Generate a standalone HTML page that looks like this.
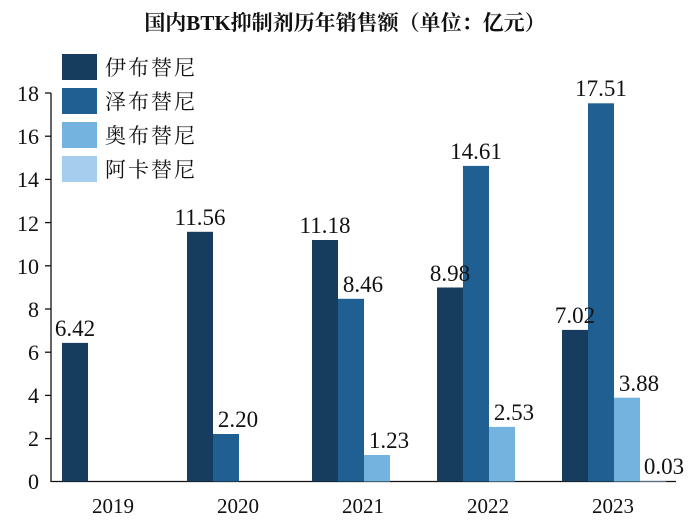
<!DOCTYPE html><html><head><meta charset="utf-8"><style>body{margin:0;background:#fff}svg{display:block}text{font-family:"Liberation Serif","Noto Serif CJK SC",serif;fill:#111}</style></head><body>
<svg width="691" height="521" xmlns="http://www.w3.org/2000/svg">
<text x="345" y="30" text-anchor="middle" font-size="21" font-weight="bold">国内BTK抑制剂历年销售额（单位：亿元）</text>
<g font-size="22" text-anchor="end">
<text x="39" y="489">0</text><text x="39" y="446">2</text><text x="39" y="403">4</text><text x="39" y="360">6</text><text x="39" y="317">8</text><text x="39" y="274">10</text><text x="39" y="231">12</text><text x="39" y="187">14</text><text x="39" y="144">16</text><text x="39" y="101">18</text></g>
<g stroke="#111" stroke-width="1.3"><line x1="51" y1="93" x2="51" y2="482"/><line x1="51" y1="481.5" x2="676" y2="481.5"/>
<line x1="45" y1="93" x2="51" y2="93"/><line x1="45" y1="136.2" x2="51" y2="136.2"/><line x1="45" y1="179.4" x2="51" y2="179.4"/><line x1="45" y1="222.6" x2="51" y2="222.6"/><line x1="45" y1="265.8" x2="51" y2="265.8"/><line x1="45" y1="309" x2="51" y2="309"/><line x1="45" y1="352.2" x2="51" y2="352.2"/><line x1="45" y1="395.4" x2="51" y2="395.4"/><line x1="45" y1="438.6" x2="51" y2="438.6"/></g>
<g>
<rect x="62" y="342.9" width="26" height="138.6" fill="#163d5e"/>
<rect x="187" y="231.8" width="26" height="249.7" fill="#163d5e"/>
<rect x="213" y="434" width="26" height="47.5" fill="#1f5f91"/>
<rect x="312" y="240" width="26" height="241.5" fill="#163d5e"/>
<rect x="338" y="298.8" width="26" height="182.7" fill="#1f5f91"/>
<rect x="364" y="455" width="26" height="26.5" fill="#74b3e0"/>
<rect x="437" y="287.5" width="26" height="194" fill="#163d5e"/>
<rect x="463" y="165.9" width="26" height="315.6" fill="#1f5f91"/>
<rect x="489" y="426.9" width="26" height="54.6" fill="#74b3e0"/>
<rect x="562" y="329.9" width="26" height="151.6" fill="#163d5e"/>
<rect x="588" y="103.3" width="26" height="378.2" fill="#1f5f91"/>
<rect x="614" y="397.7" width="26" height="83.8" fill="#74b3e0"/>
<rect x="640" y="480.8" width="26" height="0.7" fill="#a5cdee"/>
</g>
<g font-size="23" text-anchor="middle">
<text x="75" y="336">6.42</text>
<text x="200" y="225">11.56</text><text x="238" y="427">2.20</text>
<text x="325" y="233">11.18</text><text x="363" y="292">8.46</text><text x="389" y="448">1.23</text>
<text x="450" y="281">8.98</text><text x="476" y="159">14.61</text><text x="514" y="420">2.53</text>
<text x="575" y="323">7.02</text><text x="601" y="96">17.51</text><text x="639" y="391">3.88</text><text x="664" y="474">0.03</text>
</g>
<g font-size="21" text-anchor="middle">
<text x="113" y="513">2019</text><text x="238" y="513">2020</text><text x="363" y="513">2021</text><text x="488" y="513">2022</text><text x="613" y="513">2023</text>
</g>
<rect x="62" y="54" width="35" height="26" fill="#163d5e"/>
<rect x="62" y="88" width="35" height="26" fill="#1f5f91"/>
<rect x="62" y="122" width="35" height="26" fill="#74b3e0"/>
<rect x="62" y="156" width="35" height="26" fill="#a5cdee"/>
<g font-size="21" letter-spacing="2"><text x="105" y="75">伊布替尼</text><text x="105" y="109">泽布替尼</text><text x="105" y="143">奥布替尼</text><text x="105" y="177">阿卡替尼</text></g>
</svg></body></html>
